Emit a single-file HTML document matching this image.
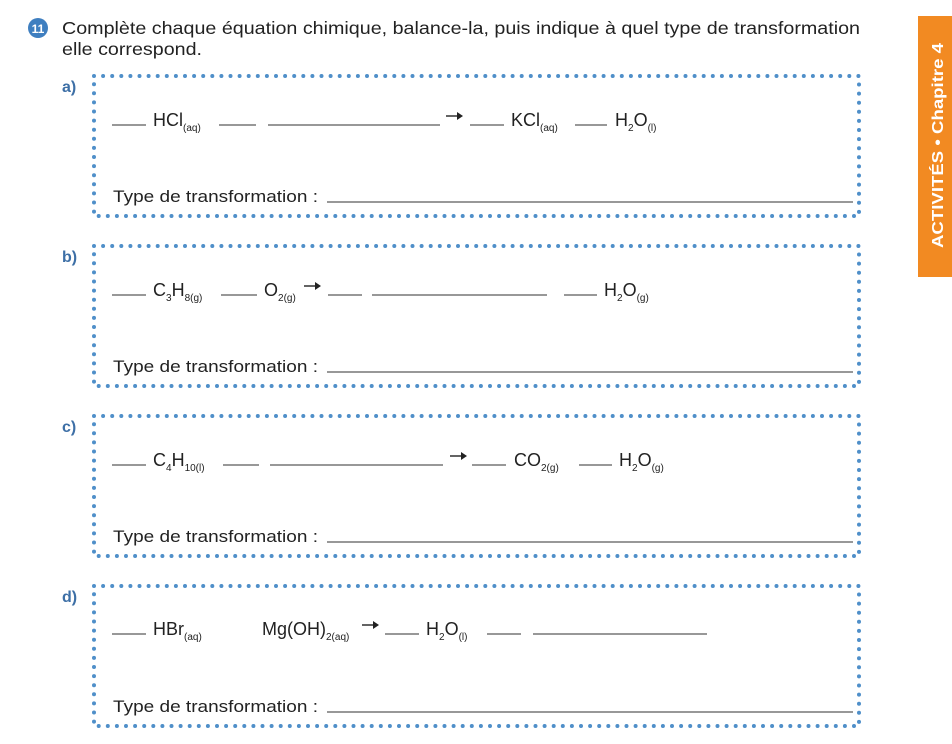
<!DOCTYPE html>
<html><head><meta charset="utf-8"><style>
html,body{margin:0;padding:0;background:#fff;}
svg{display:block;font-family:"Liberation Sans",sans-serif;}
</style></head><body>
<svg width="952" height="744" viewBox="0 0 952 744" xmlns="http://www.w3.org/2000/svg">
<defs>
<g id="box">
  <rect x="94" y="0" width="765" height="140" fill="none" stroke="#4f8fc9" stroke-width="4" stroke-linecap="round" stroke-dasharray="0 9.1"/>
  <text x="113" y="126" font-size="17" fill="#222" textLength="205" lengthAdjust="spacingAndGlyphs">Type de transformation :</text>
  <line x1="327" y1="126" x2="853" y2="126" stroke="#777" stroke-width="1.6"/>
</g>
</defs>
<circle cx="38" cy="28" r="10" fill="#3f7fc0"/>
<text x="38" y="33" font-size="12" font-weight="bold" fill="#fff" text-anchor="middle">11</text>
<text x="62" y="34" font-size="17.5" fill="#222" textLength="798" lengthAdjust="spacingAndGlyphs">Complète chaque équation chimique, balance-la, puis indique à quel type de transformation</text>
<text x="62" y="55" font-size="17.5" fill="#222" textLength="140" lengthAdjust="spacingAndGlyphs">elle correspond.</text>
<rect x="918" y="16" width="34" height="261" fill="#f28a22"/>
<text transform="translate(943,248) rotate(-90)" font-size="16" font-weight="bold" fill="#fff" textLength="205" lengthAdjust="spacingAndGlyphs">ACTIVITÉS  •  Chapitre 4</text>

<g fill="#3d6fa6" font-size="16" font-weight="bold">
<text x="62" y="92">a)</text><text x="62" y="262">b)</text><text x="62" y="432">c)</text><text x="62" y="602">d)</text>
</g>

<use href="#box" y="76"/>
<use href="#box" y="246"/>
<use href="#box" y="416"/>
<use href="#box" y="586"/>

<g stroke="#777" stroke-width="1.6">
<line x1="112" y1="125" x2="146" y2="125"/><line x1="219" y1="125" x2="256" y2="125"/><line x1="268" y1="125" x2="440" y2="125"/><line x1="470" y1="125" x2="504" y2="125"/><line x1="575" y1="125" x2="607" y2="125"/>
<line x1="112" y1="295" x2="146" y2="295"/><line x1="221" y1="295" x2="257" y2="295"/><line x1="328" y1="295" x2="362" y2="295"/><line x1="372" y1="295" x2="547" y2="295"/><line x1="564" y1="295" x2="597" y2="295"/>
<line x1="112" y1="465" x2="146" y2="465"/><line x1="223" y1="465" x2="259" y2="465"/><line x1="270" y1="465" x2="443" y2="465"/><line x1="472" y1="465" x2="506" y2="465"/><line x1="579" y1="465" x2="612" y2="465"/>
<line x1="112" y1="634" x2="146" y2="634"/><line x1="385" y1="634" x2="419" y2="634"/><line x1="487" y1="634" x2="521" y2="634"/><line x1="533" y1="634" x2="707" y2="634"/>
</g>

<g stroke="#222" stroke-width="1.4" fill="#222">
<line x1="446" y1="116" x2="458" y2="116"/><path d="M457,112 L463,116 L457,120 Z" stroke="none"/>
<line x1="304" y1="286" x2="316" y2="286"/><path d="M315,282 L321,286 L315,290 Z" stroke="none"/>
<line x1="450" y1="456" x2="462" y2="456"/><path d="M461,452 L467,456 L461,460 Z" stroke="none"/>
<line x1="362" y1="625" x2="374" y2="625"/><path d="M373,621 L379,625 L373,629 Z" stroke="none"/>
</g>

<g font-size="18" fill="#222">
<text x="153" y="126">HCl<tspan font-size="10" dy="5">(aq)</tspan></text>
<text x="511" y="126">KCl<tspan font-size="10" dy="5">(aq)</tspan></text>
<text x="615" y="126">H<tspan font-size="10" dy="5">2</tspan><tspan dy="-5">O</tspan><tspan font-size="10" dy="5">(l)</tspan></text>

<text x="153" y="296">C<tspan font-size="10" dy="5">3</tspan><tspan dy="-5">H</tspan><tspan font-size="10" dy="5">8(g)</tspan></text>
<text x="264" y="296">O<tspan font-size="10" dy="5">2(g)</tspan></text>
<text x="604" y="296">H<tspan font-size="10" dy="5">2</tspan><tspan dy="-5">O</tspan><tspan font-size="10" dy="5">(g)</tspan></text>

<text x="153" y="466">C<tspan font-size="10" dy="5">4</tspan><tspan dy="-5">H</tspan><tspan font-size="10" dy="5">10(l)</tspan></text>
<text x="514" y="466">CO<tspan font-size="10" dy="5">2(g)</tspan></text>
<text x="619" y="466">H<tspan font-size="10" dy="5">2</tspan><tspan dy="-5">O</tspan><tspan font-size="10" dy="5">(g)</tspan></text>

<text x="153" y="635">HBr<tspan font-size="10" dy="5">(aq)</tspan></text>
<text x="262" y="635">Mg(OH)<tspan font-size="10" dy="5">2(aq)</tspan></text>
<text x="426" y="635">H<tspan font-size="10" dy="5">2</tspan><tspan dy="-5">O</tspan><tspan font-size="10" dy="5">(l)</tspan></text>
</g>
</svg>
</body></html>
